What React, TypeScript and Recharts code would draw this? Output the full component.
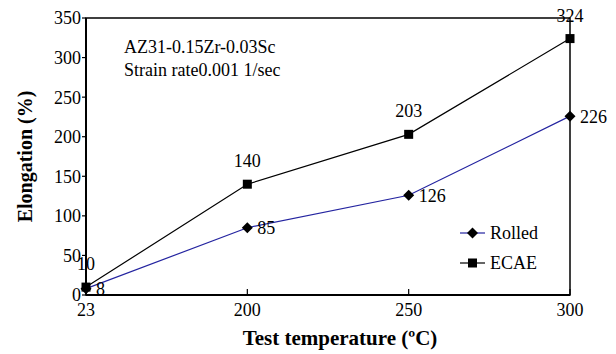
import React from "react";
import { LineChart, Line, XAxis, YAxis, ReferenceArea, LabelList } from "recharts";

const temperatures = ["23", "200", "250", "300"];
const rolledValues = [8, 85, 126, 226];
const ecaeValues = [10, 140, 203, 324];
const yTicks = [0, 50, 100, 150, 200, 250, 300, 350];
const seriesNames = ["Rolled", "ECAE"];
const annotationLines = ["AZ31-0.15Zr-0.03Sc", "Strain rate0.001 1/sec"];

const data = temperatures.map((t, i) => ({
  temp: t,
  rolled: rolledValues[i],
  ecae: ecaeValues[i],
}));

const FONT = "'Liberation Serif', 'Times New Roman', serif";
const BLUE = "#2424a0";

const Diamond = (props: any) => {
  const { cx, cy } = props;
  if (cx == null || cy == null) return <g />;
  const r = 5.5;
  return (
    <path
      d={`M${cx},${cy - r}L${cx + r},${cy}L${cx},${cy + r}L${cx - r},${cy}Z`}
      fill="#000"
    />
  );
};

const Square = (props: any) => {
  const { cx, cy } = props;
  if (cx == null || cy == null) return <g />;
  const s = 4.5;
  return <rect x={cx - s} y={cy - s} width={s * 2} height={s * 2} fill="#000" />;
};

const LegendBox = () => (
  <div
    style={{
      position: "absolute",
      left: 452,
      top: 210,
      fontFamily: FONT,
      fontSize: 18,
      color: "#000",
    }}
  >
    {seriesNames.map((name, i) => (
      <div key={name} style={{ display: "flex", alignItems: "center", height: 30 }}>
        <svg width={26} height={14}>
          <line x1={0} y1={7} x2={25} y2={7} stroke={i === 0 ? BLUE : "#000"} strokeWidth={1.2} />
          {i === 0 ? (
            <path d="M12.5,1.5L18,7L12.5,12.5L7,7Z" fill="#000" />
          ) : (
            <rect x={8} y={2.5} width={9} height={9} fill="#000" />
          )}
        </svg>
        <span style={{ marginLeft: 4 }}>{name}</span>
      </div>
    ))}
  </div>
);

export default function App() {
  return (
    <div style={{ position: "relative", width: 608, height: 346 }}>
      <LineChart
        width={608}
        height={346}
        data={data}
        margin={{ top: 10, right: 46, bottom: 0, left: 17 }}
      >
        <XAxis
          dataKey="temp"
          height={59}
          tickSize={-6}
          tickMargin={14}
          axisLine={{ stroke: "#000", strokeWidth: 2 }}
          tickLine={{ stroke: "#000", strokeWidth: 1.2 }}
          tick={{ fill: "#000", fontSize: 18, fontFamily: FONT }}
          label={{
            value: "Test temperature (ºC)",
            position: "insideBottom",
            offset: 9,
            dx: 12,
            style: { fill: "#000", fontSize: 21, fontWeight: "bold", fontFamily: FONT },
          }}
        />
        <YAxis
          width={61}
          domain={[0, 350]}
          ticks={yTicks}
          interval={0}
          tickSize={4}
          tickMargin={1}
          axisLine={{ stroke: "#000", strokeWidth: 2 }}
          tickLine={{ stroke: "#000", strokeWidth: 1.2 }}
          tick={{ fill: "#000", fontSize: 18, fontFamily: FONT }}
          label={{
            value: "Elongation (%)",
            angle: -90,
            position: "insideLeft",
            offset: 0,
            style: { fill: "#000", fontSize: 20, fontWeight: "bold", fontFamily: FONT, textAnchor: "middle" },
          }}
        />
        <ReferenceArea
          x1={temperatures[0]}
          x2={temperatures[temperatures.length - 1]}
          y1={0}
          y2={350}
          fill="none"
          stroke="#000"
          strokeWidth={1.5}
        />
        <Line
          type="linear"
          dataKey="rolled"
          name={seriesNames[0]}
          stroke={BLUE}
          strokeWidth={1.2}
          dot={<Diamond />}
          activeDot={false}
          isAnimationActive={false}
        >
          <LabelList
            dataKey="rolled"
            position="right"
            offset={10}
            style={{ fill: "#000", fontSize: 18, fontFamily: FONT }}
          />
        </Line>
        <Line
          type="linear"
          dataKey="ecae"
          name={seriesNames[1]}
          stroke="#000"
          strokeWidth={1.2}
          dot={<Square />}
          activeDot={false}
          isAnimationActive={false}
        >
          <LabelList
            dataKey="ecae"
            position="top"
            offset={17}
            style={{ fill: "#000", fontSize: 18, fontFamily: FONT }}
          />
        </Line>
      </LineChart>
      <LegendBox />
      <div
        style={{
          position: "absolute",
          left: 116,
          top: 28,
          fontFamily: FONT,
          fontSize: 18,
          lineHeight: "23px",
          color: "#000",
          whiteSpace: "nowrap",
        }}
      >
        {annotationLines.map((l) => (
          <div key={l}>{l}</div>
        ))}
      </div>
    </div>
  );
}
